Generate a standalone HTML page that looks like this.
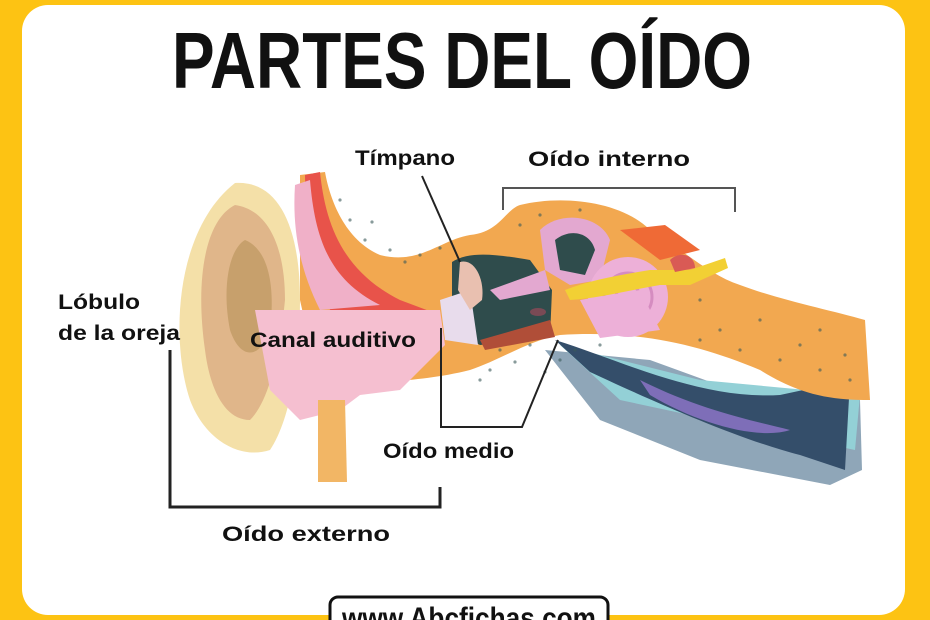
<!DOCTYPE html>
<html><head><meta charset="utf-8"><style>
html,body{margin:0;padding:0;width:930px;height:620px;overflow:hidden;background:#FDC313;}
svg{display:block}
text{font-family:"Liberation Sans",sans-serif;}
</style></head><body>
<svg width="930" height="620" viewBox="0 0 930 620" xmlns="http://www.w3.org/2000/svg">
<rect x="0" y="0" width="930" height="620" fill="#FDC313"/>
<rect x="22" y="5" width="883" height="610" rx="26" fill="#fff"/>
<text x="172" y="88" font-size="80" font-weight="bold" textLength="580" lengthAdjust="spacingAndGlyphs" fill="#111">PARTES DEL OÍDO</text>

<rect x="330" y="597" width="278" height="40" rx="8" fill="#fff" stroke="#111" stroke-width="3"/>
<text x="342" y="628" font-size="30" font-weight="bold" textLength="254" lengthAdjust="spacingAndGlyphs" fill="#111">www.Abcfichas.com</text>

<!-- lower blue structures -->
<path d="M545 350 L650 360 L760 400 L860 400 L862 470 L830 485 L700 460 L600 420 Z" fill="#8FA6B8"/>
<path d="M560 345 L700 380 L860 395 L855 450 L760 430 L620 400 Z" fill="#93D0D6"/>
<path d="M555 340 C620 360 700 400 780 395 L850 380 L845 470 L800 455 C740 440 650 400 590 372 Z" fill="#344E6A"/>
<path d="M640 380 C700 410 750 420 790 430 C760 440 700 425 650 395 Z" fill="#7E6EB8"/>

<!-- main bone band -->
<path d="M300 175 L325 172 C330 200 345 240 380 255 C420 265 440 240 470 235 C500 232 505 210 520 205 C560 195 620 200 650 230 C690 255 710 275 740 285 C780 300 830 310 865 320 L870 400 C830 400 800 395 760 370 C700 345 640 330 560 335 C530 340 500 360 470 370 C430 380 400 380 360 385 L320 390 L300 300 Z" fill="#F2A850"/>
<path d="M620 230 L665 225 L700 250 L660 260 Z" fill="#EF6A36"/>
<g fill="#3a5a5a" opacity="0.6">
<circle cx="350" cy="220" r="1.6"/><circle cx="365" cy="240" r="1.6"/><circle cx="390" cy="250" r="1.6"/><circle cx="420" cy="255" r="1.6"/>
<circle cx="340" cy="200" r="1.6"/><circle cx="372" cy="222" r="1.6"/><circle cx="405" cy="262" r="1.6"/><circle cx="440" cy="248" r="1.6"/>
<circle cx="500" cy="350" r="1.6"/><circle cx="530" cy="345" r="1.6"/><circle cx="560" cy="360" r="1.6"/><circle cx="600" cy="345" r="1.6"/>
<circle cx="515" cy="362" r="1.6"/><circle cx="545" cy="372" r="1.6"/><circle cx="575" cy="350" r="1.6"/><circle cx="490" cy="370" r="1.6"/>
<circle cx="700" cy="340" r="1.6"/><circle cx="740" cy="350" r="1.6"/><circle cx="780" cy="360" r="1.6"/><circle cx="820" cy="370" r="1.6"/>
<circle cx="760" cy="320" r="1.6"/><circle cx="820" cy="330" r="1.6"/><circle cx="480" cy="380" r="1.6"/><circle cx="540" cy="215" r="1.6"/>
<circle cx="720" cy="330" r="1.6"/><circle cx="800" cy="345" r="1.6"/><circle cx="845" cy="355" r="1.6"/><circle cx="850" cy="380" r="1.6"/>
<circle cx="580" cy="210" r="1.6"/><circle cx="520" cy="225" r="1.6"/><circle cx="700" cy="300" r="1.6"/>
</g>

<path d="M305 175 L320 172 C325 220 340 270 400 300 L440 315 L330 310 C315 260 305 220 305 175 Z" fill="#E8534A"/>
<path d="M295 185 L310 180 C315 240 330 280 380 305 L320 310 C300 270 292 230 295 185 Z" fill="#F0B0C8"/>

<!-- pinna -->
<path d="M235 183 C280 180 300 230 300 300 C300 360 290 420 270 450 C240 460 205 440 190 400 C170 340 175 230 235 183 Z" fill="#F4E0A8"/>
<path d="M235 205 C270 210 285 250 285 300 C280 350 270 400 250 420 C225 420 210 390 205 350 C195 280 205 220 235 205 Z" fill="#E0B68A"/>
<path d="M245 240 C270 250 275 290 270 330 C260 360 240 360 230 330 C222 290 228 250 245 240 Z" fill="#C7A06C"/>

<path d="M255 310 L440 310 L445 345 L400 390 L360 395 L340 410 L300 420 L270 390 Z" fill="#F5BFD0"/>
<path d="M318 400 L345 400 L347 482 L318 482 Z" fill="#F2B665"/>

<!-- middle ear -->
<path d="M452 262 C470 250 500 255 530 260 L552 290 L550 337 L480 345 L452 330 Z" fill="#2F4C4C"/>
<path d="M440 300 L470 290 L478 345 L445 340 Z" fill="#E8DCEC"/>
<path d="M460 262 C475 258 485 280 482 300 L470 310 L458 290 Z" fill="#E9C0B0"/>
<path d="M480 340 L550 320 L555 337 L485 350 Z" fill="#B04E38"/>
<path d="M490 290 L545 270 L550 290 L500 300 Z" fill="#E3A8D0"/>

<!-- inner ear -->
<path d="M540 230 C560 210 600 215 610 240 L600 280 L570 285 L545 270 Z" fill="#E3A8D0"/>
<path d="M555 240 C570 228 590 232 595 250 L585 275 L560 270 Z" fill="#2F4C4C"/>
<circle cx="628" cy="297" r="40" fill="#EDB0D8"/>
<circle cx="628" cy="297" r="24" fill="none" stroke="#d58cc0" stroke-width="3"/>
<circle cx="628" cy="297" r="12" fill="none" stroke="#d58cc0" stroke-width="3"/>
<path d="M580 300 L640 290 L660 330 L600 338 Z" fill="#EDB0D8"/>
<path d="M565 290 C590 280 620 275 650 270 L690 270 L725 258 L728 268 L690 285 L660 285 C630 290 600 298 570 300 Z" fill="#F2D034"/>
<path d="M670 260 C680 250 695 255 695 268 L675 272 Z" fill="#D95A55"/>
<ellipse cx="538" cy="312" rx="8" ry="4" fill="#7a4a55"/>

<!-- labels -->
<g font-size="21" font-weight="bold" fill="#111">
<text x="355" y="165" textLength="100" lengthAdjust="spacingAndGlyphs">Tímpano</text>
<text x="528" y="166" textLength="162" lengthAdjust="spacingAndGlyphs">Oído interno</text>
<text x="58" y="309" textLength="82" lengthAdjust="spacingAndGlyphs">Lóbulo</text>
<text x="58" y="340" textLength="122" lengthAdjust="spacingAndGlyphs">de la oreja</text>
<text x="250" y="347" textLength="166" lengthAdjust="spacingAndGlyphs">Canal auditivo</text>
<text x="383" y="458" textLength="131" lengthAdjust="spacingAndGlyphs">Oído medio</text>
<text x="222" y="541" textLength="168" lengthAdjust="spacingAndGlyphs">Oído externo</text>
</g>

<g fill="none" stroke="#222" stroke-width="2">
<path d="M422 176 L460 262"/>
<path d="M503 210 L503 188 L735 188 L735 212" stroke="#555"/>
<path d="M441 328 L441 427 L522 427 L558 340"/>
<path d="M170 350 L170 507 L440 507 L440 487" stroke-width="3"/>
</g>
</svg>
</body></html>
